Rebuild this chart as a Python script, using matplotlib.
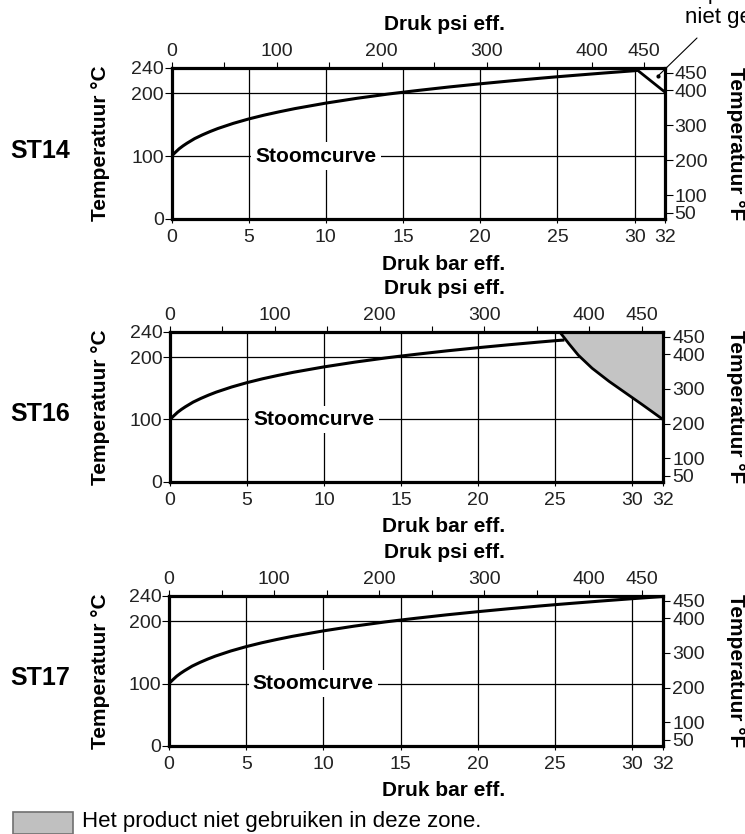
import matplotlib.pyplot as plt
from matplotlib.patches import Rectangle

plt.rcParams['font.family'] = ['Liberation Sans', 'DejaVu Sans']

W, H = 745, 834

# stoomcurve: druk bar eff. -> temperatuur C
bar_pts = [0, 0.25, 0.5, 0.75, 1, 1.5, 2, 2.5, 3, 4, 5, 6, 7, 8, 10, 12, 14, 15, 16, 18, 20,
           22, 24, 25, 26, 28, 30, 32]
temp_pts = [100.0, 106.0, 111.7, 116.3, 120.4, 127.8, 133.7, 139.0, 143.8, 152.0, 159.0, 165.1,
            170.5, 175.5, 184.2, 191.8, 198.5, 201.5, 204.4, 209.9, 214.9, 219.6, 224.0, 226.1,
            228.1, 232.0, 235.7, 239.2]

# einde van de curve per type
st14_end = (30.2, 236.2)
st16_end = (25.6, 227.2)

# grens van de zone "niet gebruiken"
st14_lim_bar = [30.2, 32.0]
st14_lim_temp = [236.2, 201.0]
st16_lim_bar = [25.3, 25.9, 26.5, 27.4, 28.5, 29.6, 30.7, 32.0]
st16_lim_temp = [240, 221, 203, 182, 161, 142, 123, 100]

bar_ticks = [0, 5, 10, 15, 20, 25, 30, 32]
c_ticks = [0, 100, 200, 240]
psi_ticks = [0, 100, 200, 300, 400, 450]
psi_minor = [50, 150, 250, 350]
f_ticks = [50, 100, 200, 300, 400, 450]
grid_x = [5, 10, 15, 20, 25, 30]
grid_y = [100, 200]

PSI = 14.7


def b2p(b):
    return b * PSI


def p2b(p):
    return p / PSI


def c2f(c):
    return c * 1.8 + 32


def f2c(f):
    return (f - 32) / 1.8


fig = plt.figure(figsize=(W / 100, H / 100), dpi=100)


def ftxt(x, y, s, **kw):
    fig.text(x / W, 1 - y / H, s, **kw)


def panel(left, right, top, bottom, name):
    ax = fig.add_axes([left / W, 1 - bottom / H, (right - left) / W, (bottom - top) / H])
    ax.set_xlim(0, 32)
    ax.set_ylim(0, 240)
    for sp in ax.spines.values():
        sp.set_linewidth(2.3)
    for g in grid_x:
        ax.axvline(g, color='black', lw=0.9, zorder=1)
    for g in grid_y:
        ax.axhline(g, color='black', lw=0.9, zorder=1)
    ax.set_xticks(bar_ticks)
    ax.set_yticks(c_ticks)
    ax.tick_params(axis='x', direction='out', length=3, width=0.8, pad=4.5, labelsize=14,
                   labelcolor='#222222')
    ax.tick_params(axis='y', direction='out', length=5, width=0.8, pad=0.5, labelsize=14,
                   labelcolor='#222222')

    secx = ax.secondary_xaxis('top', functions=(b2p, p2b))
    secx.set_xticks(psi_ticks)
    secx.set_xticks(psi_minor, minor=True)
    secx.tick_params(which='both', direction='out', length=4.5, width=0.8, pad=1, labelsize=14,
                     labelcolor='#222222')
    secy = ax.secondary_yaxis('right', functions=(c2f, f2c))
    secy.set_yticks(f_ticks)
    secy.tick_params(direction='out', length=5, width=0.8, pad=1.5, labelsize=14,
                     labelcolor='#222222')
    for s in (secx, secy):
        for sp in s.spines.values():
            sp.set_visible(False)

    ax.text(9.35, 100, 'Stoomcurve', fontsize=15, fontweight='bold', ha='center', va='center',
            zorder=3, bbox=dict(boxstyle='square,pad=0.2', fc='white', ec='none'))

    mid = (top + bottom) / 2
    ftxt(101, mid, 'Temperatuur °C', fontsize=15, fontweight='bold', rotation=90,
         ha='center', va='center')
    ftxt(736, mid, 'Temperatuur °F', fontsize=15, fontweight='bold', rotation=-90,
         ha='center', va='center')
    ftxt(10, mid + 7, name, fontsize=18, fontweight='bold', ha='left', va='center')
    ftxt(444, top - 43, 'Druk psi eff.', fontsize=15, fontweight='bold', ha='center', va='center')
    ftxt(444, bottom + 45, 'Druk bar eff.', fontsize=15, fontweight='bold', ha='center', va='center')
    return ax


# ST14
ax1 = panel(171.5, 665.5, 68, 219, 'ST14')
b = [x for x in bar_pts if x < st14_end[0]] + [st14_end[0]]
t = temp_pts[:len(b) - 1] + [st14_end[1]]
ax1.plot(b, t, color='black', lw=2.2, zorder=4, solid_capstyle='butt')
ax1.plot(st14_lim_bar, st14_lim_temp, color='black', lw=2.0, zorder=4)
ax1.plot(31.5, 227, 'o', color='black', ms=2, zorder=4)
ax1.annotate('', xy=(31.5, 227), xytext=(697 / W, 1 - 38 / H), textcoords='figure fraction',
             arrowprops=dict(arrowstyle='-', lw=0.8, color='black', shrinkA=0, shrinkB=0),
             annotation_clip=False)
ftxt(667, -7, 'Het product', fontsize=16, ha='left', va='center')
ftxt(685, 17, 'niet gebruiken in deze zone', fontsize=16, ha='left', va='center')

# ST16
ax2 = panel(170, 663, 332, 482, 'ST16')
b = [x for x in bar_pts if x < st16_end[0]] + [st16_end[0]]
t = temp_pts[:len(b) - 1] + [st16_end[1]]
ax2.plot(b, t, color='black', lw=2.2, zorder=4, solid_capstyle='butt')
ax2.fill(st16_lim_bar + [32], st16_lim_temp + [240], color='#c4c4c4', zorder=2, lw=0)
ax2.plot(st16_lim_bar, st16_lim_temp, color='black', lw=2.0, zorder=4)

# ST17
ax3 = panel(169, 663, 596, 746, 'ST17')
ax3.plot(bar_pts, temp_pts, color='black', lw=2.2, zorder=4)

# legenda
fig.patches.append(Rectangle((13 / W, 0), 60 / W, 22 / H, transform=fig.transFigure,
                             fc='#c0c0c0', ec='#707070', lw=1.2))
ftxt(82, 822, 'Het product niet gebruiken in deze zone.', fontsize=16, ha='left', va='center')

fig.savefig('out.png', dpi=100)
